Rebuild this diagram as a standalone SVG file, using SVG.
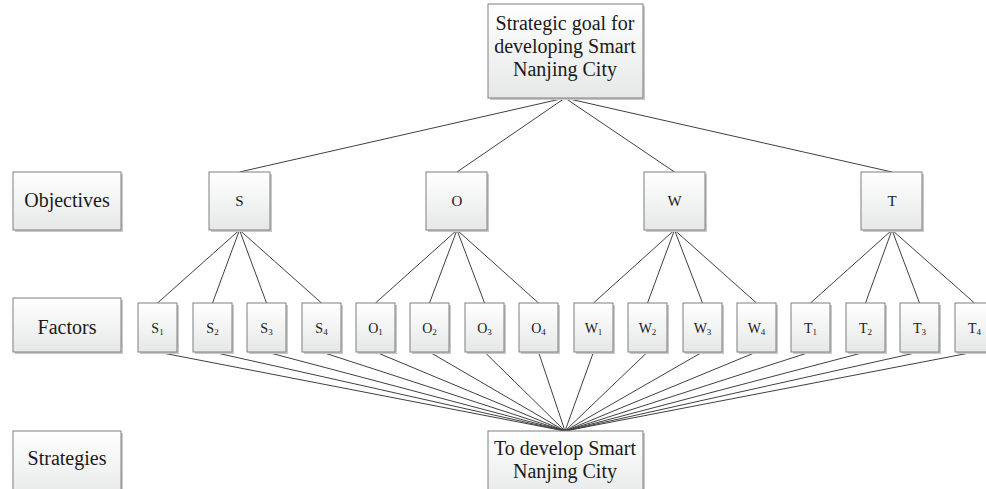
<svg xmlns="http://www.w3.org/2000/svg" width="986" height="489" viewBox="0 0 986 489">
<defs>
<linearGradient id="g" x1="0" y1="0" x2="0" y2="1">
<stop offset="0" stop-color="#ffffff"/>
<stop offset="1" stop-color="#e6e8e8"/>
</linearGradient>
<style>
.b{fill:url(#g);stroke:#7f7f7f;stroke-width:1}
.sh{fill:#c9c9c9}
text{fill:#1a1a1a;text-anchor:middle}
.big{font-size:20px}
.sm{font-size:14px}
.ob{font-size:15px}
.sub{font-size:9px}
.c line{stroke:#404040;stroke-width:1}
</style>
</defs>
<rect width="986" height="489" fill="#ffffff"/>
<g class="c" id="connectors">
<line x1="565" y1="98" x2="239.5" y2="172"/>
<line x1="565" y1="98" x2="457" y2="172"/>
<line x1="565" y1="98" x2="674.5" y2="172"/>
<line x1="565" y1="98" x2="892" y2="172"/>
<line x1="239.5" y1="230" x2="157.5" y2="303"/>
<line x1="239.5" y1="230" x2="212.5" y2="303"/>
<line x1="239.5" y1="230" x2="266.5" y2="303"/>
<line x1="239.5" y1="230" x2="321.5" y2="303"/>
<line x1="457" y1="230" x2="375.5" y2="303"/>
<line x1="457" y1="230" x2="429.5" y2="303"/>
<line x1="457" y1="230" x2="484.5" y2="303"/>
<line x1="457" y1="230" x2="538.5" y2="303"/>
<line x1="674.5" y1="230" x2="593.5" y2="303"/>
<line x1="674.5" y1="230" x2="647.5" y2="303"/>
<line x1="674.5" y1="230" x2="702.5" y2="303"/>
<line x1="674.5" y1="230" x2="756.5" y2="303"/>
<line x1="892" y1="230" x2="810.5" y2="303"/>
<line x1="892" y1="230" x2="865.5" y2="303"/>
<line x1="892" y1="230" x2="919.5" y2="303"/>
<line x1="892" y1="230" x2="974.5" y2="303"/>
<line x1="157.5" y1="352" x2="565" y2="431"/>
<line x1="212.5" y1="352" x2="565" y2="431"/>
<line x1="266.5" y1="352" x2="565" y2="431"/>
<line x1="321.5" y1="352" x2="565" y2="431"/>
<line x1="375.5" y1="352" x2="565" y2="431"/>
<line x1="429.5" y1="352" x2="565" y2="431"/>
<line x1="484.5" y1="352" x2="565" y2="431"/>
<line x1="538.5" y1="352" x2="565" y2="431"/>
<line x1="593.5" y1="352" x2="565" y2="431"/>
<line x1="647.5" y1="352" x2="565" y2="431"/>
<line x1="702.5" y1="352" x2="565" y2="431"/>
<line x1="756.5" y1="352" x2="565" y2="431"/>
<line x1="810.5" y1="352" x2="565" y2="431"/>
<line x1="865.5" y1="352" x2="565" y2="431"/>
<line x1="919.5" y1="352" x2="565" y2="431"/>
<line x1="974.5" y1="352" x2="565" y2="431"/>
</g>
<g font-family="'Liberation Serif', 'DejaVu Serif', serif">
<g id="goal">
<rect class="sh" x="490" y="6" width="155" height="94"/>
<rect class="b" x="488" y="4" width="155" height="94"/>
<text class="big" x="565" y="30">Strategic goal for</text>
<text class="big" x="565" y="53">developing Smart</text>
<text class="big" x="565" y="76">Nanjing City</text>
</g>
<g id="strategy">
<rect class="sh" x="490" y="433" width="155" height="70"/>
<rect class="b" x="488" y="431" width="155" height="70"/>
<text class="big" x="565" y="455">To develop Smart</text>
<text class="big" x="565" y="478">Nanjing City</text>
</g>
<g id="lbl-objectives">
<rect class="sh" x="15" y="174" width="108" height="58"/>
<rect class="b" x="13" y="172" width="108" height="58"/>
<text class="big" x="67" y="207">Objectives</text>
</g>
<g id="lbl-factors">
<rect class="sh" x="15" y="300" width="108" height="54"/>
<rect class="b" x="13" y="298" width="108" height="54"/>
<text class="big" x="67" y="334">Factors</text>
</g>
<g id="lbl-strategies">
<rect class="sh" x="15" y="433" width="108" height="70"/>
<rect class="b" x="13" y="431" width="108" height="70"/>
<text class="big" x="67" y="465">Strategies</text>
</g>
<g id="obj-S"><rect class="sh" x="211" y="174" width="61" height="58"/><rect class="b" x="209" y="172" width="61" height="58"/><text class="ob" x="239.5" y="206">S</text></g>
<g id="obj-O"><rect class="sh" x="428" y="174" width="61" height="58"/><rect class="b" x="426" y="172" width="61" height="58"/><text class="ob" x="457" y="206">O</text></g>
<g id="obj-W"><rect class="sh" x="646" y="174" width="61" height="58"/><rect class="b" x="644" y="172" width="61" height="58"/><text class="ob" x="674.5" y="206">W</text></g>
<g id="obj-T"><rect class="sh" x="863" y="174" width="61" height="58"/><rect class="b" x="861" y="172" width="61" height="58"/><text class="ob" x="892" y="206">T</text></g>
<g id="f-S1"><rect class="sh" x="140" y="305" width="39" height="49"/><rect class="b" x="138" y="303" width="39" height="49"/><text class="sm" x="157.5" y="333">S<tspan class="sub" dy="2">1</tspan></text></g>
<g id="f-S2"><rect class="sh" x="195" y="305" width="39" height="49"/><rect class="b" x="193" y="303" width="39" height="49"/><text class="sm" x="212.5" y="333">S<tspan class="sub" dy="2">2</tspan></text></g>
<g id="f-S3"><rect class="sh" x="249" y="305" width="39" height="49"/><rect class="b" x="247" y="303" width="39" height="49"/><text class="sm" x="266.5" y="333">S<tspan class="sub" dy="2">3</tspan></text></g>
<g id="f-S4"><rect class="sh" x="304" y="305" width="39" height="49"/><rect class="b" x="302" y="303" width="39" height="49"/><text class="sm" x="321.5" y="333">S<tspan class="sub" dy="2">4</tspan></text></g>
<g id="f-O1"><rect class="sh" x="358" y="305" width="39" height="49"/><rect class="b" x="356" y="303" width="39" height="49"/><text class="sm" x="375.5" y="333">O<tspan class="sub" dy="2">1</tspan></text></g>
<g id="f-O2"><rect class="sh" x="412" y="305" width="39" height="49"/><rect class="b" x="410" y="303" width="39" height="49"/><text class="sm" x="429.5" y="333">O<tspan class="sub" dy="2">2</tspan></text></g>
<g id="f-O3"><rect class="sh" x="467" y="305" width="39" height="49"/><rect class="b" x="465" y="303" width="39" height="49"/><text class="sm" x="484.5" y="333">O<tspan class="sub" dy="2">3</tspan></text></g>
<g id="f-O4"><rect class="sh" x="521" y="305" width="39" height="49"/><rect class="b" x="519" y="303" width="39" height="49"/><text class="sm" x="538.5" y="333">O<tspan class="sub" dy="2">4</tspan></text></g>
<g id="f-W1"><rect class="sh" x="576" y="305" width="39" height="49"/><rect class="b" x="574" y="303" width="39" height="49"/><text class="sm" x="593.5" y="333">W<tspan class="sub" dy="2">1</tspan></text></g>
<g id="f-W2"><rect class="sh" x="630" y="305" width="39" height="49"/><rect class="b" x="628" y="303" width="39" height="49"/><text class="sm" x="647.5" y="333">W<tspan class="sub" dy="2">2</tspan></text></g>
<g id="f-W3"><rect class="sh" x="685" y="305" width="39" height="49"/><rect class="b" x="683" y="303" width="39" height="49"/><text class="sm" x="702.5" y="333">W<tspan class="sub" dy="2">3</tspan></text></g>
<g id="f-W4"><rect class="sh" x="739" y="305" width="39" height="49"/><rect class="b" x="737" y="303" width="39" height="49"/><text class="sm" x="756.5" y="333">W<tspan class="sub" dy="2">4</tspan></text></g>
<g id="f-T1"><rect class="sh" x="793" y="305" width="39" height="49"/><rect class="b" x="791" y="303" width="39" height="49"/><text class="sm" x="810.5" y="333">T<tspan class="sub" dy="2">1</tspan></text></g>
<g id="f-T2"><rect class="sh" x="848" y="305" width="39" height="49"/><rect class="b" x="846" y="303" width="39" height="49"/><text class="sm" x="865.5" y="333">T<tspan class="sub" dy="2">2</tspan></text></g>
<g id="f-T3"><rect class="sh" x="902" y="305" width="39" height="49"/><rect class="b" x="900" y="303" width="39" height="49"/><text class="sm" x="919.5" y="333">T<tspan class="sub" dy="2">3</tspan></text></g>
<g id="f-T4"><rect class="sh" x="957" y="305" width="39" height="49"/><rect class="b" x="955" y="303" width="39" height="49"/><text class="sm" x="974.5" y="333">T<tspan class="sub" dy="2">4</tspan></text></g>
</g>
</svg>
